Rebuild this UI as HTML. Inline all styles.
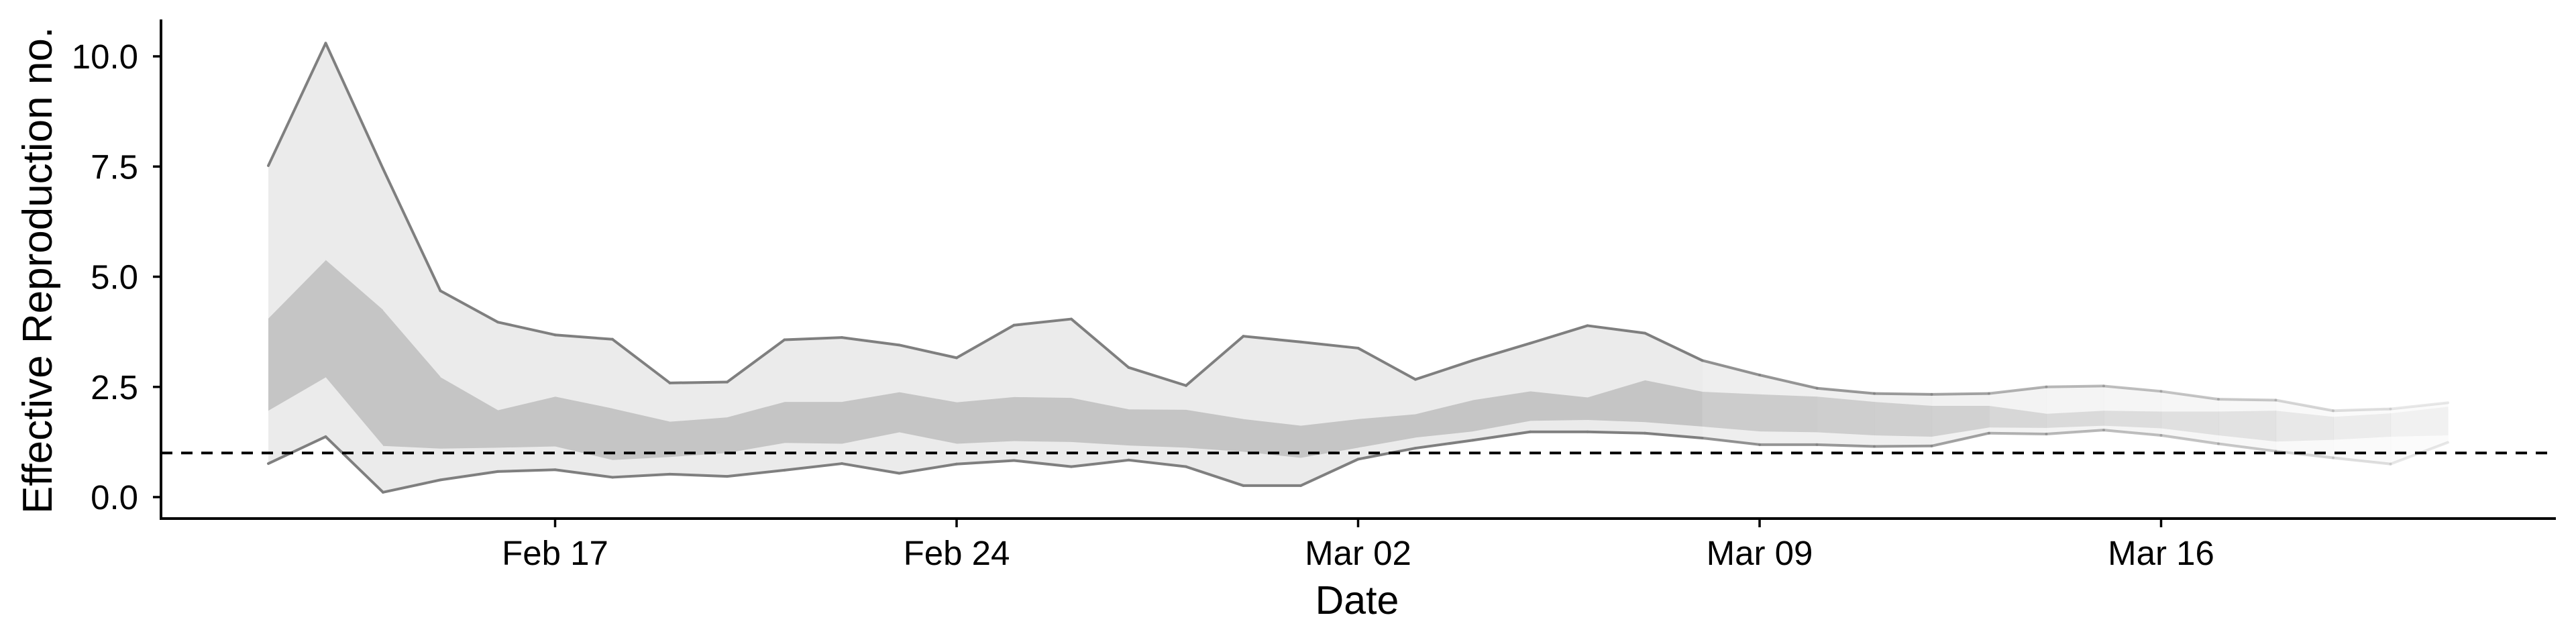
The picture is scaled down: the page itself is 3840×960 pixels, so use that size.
<!DOCTYPE html>
<html><head><meta charset="utf-8"><style>
html,body{margin:0;padding:0;background:#fff;}
svg{display:block;font-family:"Liberation Sans",Arial,sans-serif;}
</style></head><body>
<svg id="chart" width="3840" height="960" viewBox="0 0 3840 960" xmlns="http://www.w3.org/2000/svg">
<g id="bands"></g>
<g id="lines"></g>
<g id="axes"></g>
</svg>
<script>
const startDay = -5; // Feb 12 relative to Feb 17
const upper90 = [7.52,10.3,7.45,4.68,3.97,3.68,3.58,2.59,2.61,3.57,3.62,3.45,3.16,3.9,4.04,2.94,2.53,3.65,3.52,3.38,2.67,3.10,3.49,3.89,3.72,3.10,2.77,2.47,2.35,2.33,2.35,2.50,2.52,2.40,2.22,2.20,1.96,2.0,2.14];
const lower90 = [0.76,1.37,0.11,0.39,0.58,0.62,0.45,0.52,0.47,0.61,0.76,0.54,0.75,0.83,0.69,0.84,0.69,0.26,0.26,0.86,1.11,1.29,1.48,1.48,1.45,1.34,1.19,1.19,1.15,1.16,1.45,1.43,1.52,1.40,1.21,1.04,0.89,0.75,1.24];
const upper50 = [4.05,5.38,4.24,2.72,1.97,2.28,2.01,1.71,1.81,2.16,2.16,2.38,2.15,2.27,2.25,1.99,1.98,1.77,1.62,1.77,1.88,2.20,2.40,2.26,2.65,2.39,2.33,2.28,2.16,2.07,2.07,1.89,1.96,1.94,1.94,1.96,1.82,1.90,2.05];
const lower50 = [1.96,2.72,1.16,1.10,1.12,1.15,0.84,0.91,1.00,1.23,1.21,1.47,1.21,1.27,1.25,1.17,1.12,1.03,0.89,1.12,1.35,1.49,1.73,1.75,1.70,1.60,1.49,1.47,1.40,1.37,1.58,1.57,1.62,1.56,1.40,1.26,1.30,1.37,1.40];
const certainty = [1,1,1,1,1,1,1,1,1,1,1,1,1,1,1,1,1,1,1,1,1,1,1,1,1,1,0.85,0.82,0.8,0.78,0.72,0.6,0.55,0.5,0.45,0.42,0.32,0.25,0.18];
const yTicks = [0,2.5,5,7.5,10];
const yTickLabels = ["0.0","2.5","5.0","7.5","10.0"];
const xTickDays = [0,7,14,21,28];
const xTickLabels = ["Feb 17","Feb 24","Mar 02","Mar 09","Mar 16"];
const threshold = 1;

const NS="http://www.w3.org/2000/svg";
const X0=827.5, PXD=85.5;
const xs = d => X0 + d*PXD;
const Y0=741, PXU=65.7;
const ys = v => Y0 - v*PXU;
function mk(tag, attrs, parent){const e=document.createElementNS(NS,tag);for(const k in attrs)e.setAttribute(k,attrs[k]);parent.appendChild(e);return e;}
const bands=document.getElementById('bands'), lines=document.getElementById('lines'), axes=document.getElementById('axes');
const n=upper90.length;
for(let i=0;i<n-1;i++){
  const a=certainty[i+1];
  const x1=xs(startDay+i), x2=xs(startDay+i+1)+0.6;
  const p1=`${x1},${ys(upper90[i])} ${x2},${ys(upper90[i+1])} ${x2},${ys(lower90[i+1])} ${x1},${ys(lower90[i])}`;
  const o=mk('polygon',{points:p1,fill:'rgb(235,235,235)','fill-opacity':a},bands);
  
  
  const p2=`${x1},${ys(upper50[i])} ${x2},${ys(upper50[i+1])} ${x2},${ys(lower50[i+1])} ${x1},${ys(lower50[i])}`;
  const q=mk('polygon',{points:p2,fill:'rgb(197,197,197)','fill-opacity':a},bands);
  
  
  const xa=xs(startDay+i), xb=xs(startDay+i+1);
  const l1=mk('line',{x1:xa,y1:ys(upper90[i]),x2:xb,y2:ys(upper90[i+1]),stroke:'#7f7f7f','stroke-width':4,'stroke-opacity':a,'stroke-linecap':'round'},lines);
  
  
  const l2=mk('line',{x1:xa,y1:ys(lower90[i]),x2:xb,y2:ys(lower90[i+1]),stroke:'#7f7f7f','stroke-width':4,'stroke-opacity':a,'stroke-linecap':'round'},lines);
  
  
}
const th=mk('line',{x1:240,x2:3810,y1:ys(threshold),y2:ys(threshold),stroke:'#000','stroke-width':4,'stroke-dasharray':'17 13'},axes);


const ya=mk('line',{x1:240,x2:240,y1:29,y2:775,stroke:'#000','stroke-width':4},axes);


const xa=mk('line',{x1:238,x2:3810,y1:773,y2:773,stroke:'#000','stroke-width':4},axes);


yTicks.forEach((v,i)=>{
  const t=mk('line',{x1:228,x2:240,y1:ys(v),y2:ys(v),stroke:'#000','stroke-width':3.5},axes);
  
  
  const l=mk('text',{x:206,y:ys(v)+18,'text-anchor':'end','font-size':51,fill:'#000'},axes);
  l.textContent=yTickLabels[i];
  
  
});
xTickDays.forEach((d,i)=>{
  const t=mk('line',{x1:xs(d),x2:xs(d),y1:773,y2:786,stroke:'#000','stroke-width':3.5},axes);
  
  
  const l=mk('text',{x:xs(d),y:842,'text-anchor':'middle','font-size':51,fill:'#000'},axes);
  l.textContent=xTickLabels[i];
  
  
});
const xt=mk('text',{x:2023,y:915,'text-anchor':'middle','font-size':59,fill:'#000'},axes);
xt.textContent='Date';


const yt=mk('text',{x:0,y:0,'text-anchor':'middle','font-size':62,fill:'#000',transform:'translate(77,403) rotate(-90)'},axes);
yt.textContent='Effective Reproduction no.';


</script>
</body></html>
